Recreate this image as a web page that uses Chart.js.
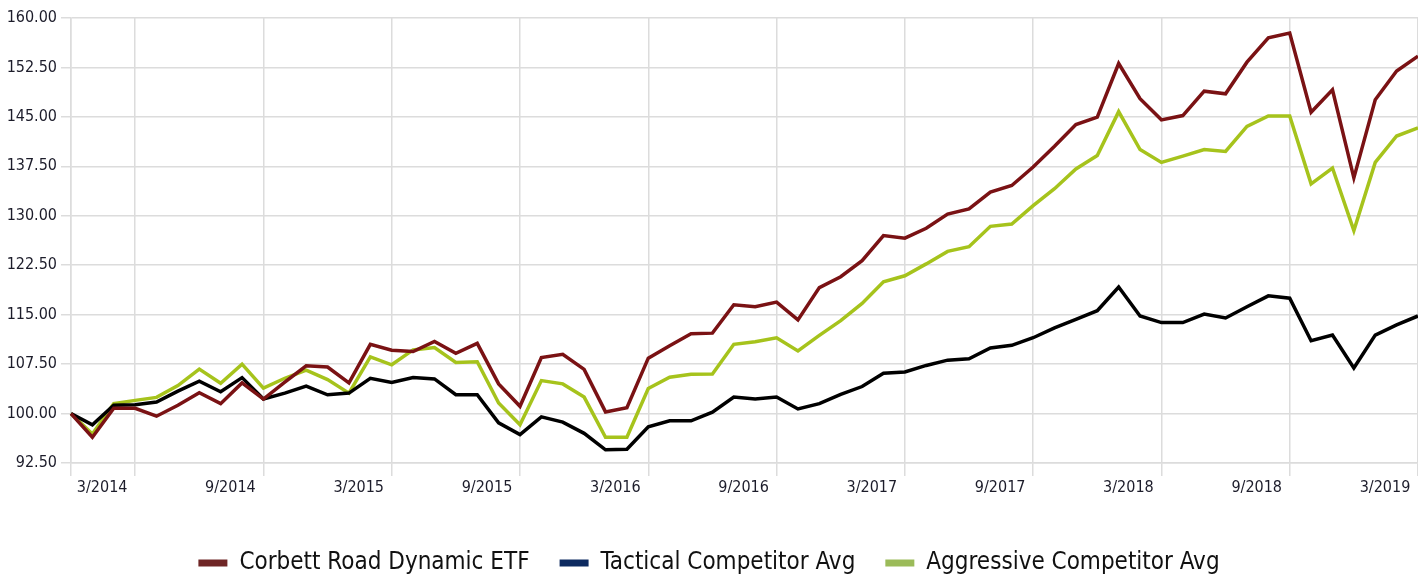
<!DOCTYPE html>
<html><head><meta charset="utf-8">
<script src="https://cdn.jsdelivr.net/npm/chart.js@4.4.1/dist/chart.umd.min.js"></script>
<style>html,body{margin:0;padding:0;background:#fff;overflow:hidden}canvas{display:block}</style>
</head><body>
<canvas id="c" width="1418" height="580"></canvas>
<script>
const months = ["12/2013",
  "1/2014","2/2014","3/2014","4/2014","5/2014","6/2014","7/2014","8/2014","9/2014","10/2014","11/2014","12/2014",
  "1/2015","2/2015","3/2015","4/2015","5/2015","6/2015","7/2015","8/2015","9/2015","10/2015","11/2015","12/2015",
  "1/2016","2/2016","3/2016","4/2016","5/2016","6/2016","7/2016","8/2016","9/2016","10/2016","11/2016","12/2016",
  "1/2017","2/2017","3/2017","4/2017","5/2017","6/2017","7/2017","8/2017","9/2017","10/2017","11/2017","12/2017",
  "1/2018","2/2018","3/2018","4/2018","5/2018","6/2018","7/2018","8/2018","9/2018","10/2018","11/2018","12/2018",
  "1/2019","2/2019","3/2019"];
const tickLabels = ["3/2014","9/2014","3/2015","9/2015","3/2016","9/2016","3/2017","9/2017","3/2018","9/2018","3/2019"];
const seriesNames = ["Corbett Road Dynamic ETF","Tactical Competitor Avg","Aggressive Competitor Avg"];
const corbett = [100, 96.4, 100.8, 100.8, 99.6, 101.25, 103.15, 101.5, 104.65, 102.2, 104.75, 107.25, 107.05, 104.65, 110.5, 109.6, 109.4, 110.95, 109.15, 110.65,
  104.5, 101.1, 108.5, 109.0, 106.7, 100.25, 100.9, 108.4, 110.3, 112.1, 112.2, 116.5, 116.2, 116.9, 114.2, 119.1, 120.75, 123.2, 127.0, 126.6, 128.1, 130.25,
  131.05, 133.6, 134.6, 137.4, 140.55, 143.85, 144.95, 153.1, 147.75, 144.55, 145.2, 148.9, 148.5, 153.3, 157.0, 157.7, 145.7, 149.1, 135.75, 147.6, 151.95, 154.2];
const tactical = [100, 98.3, 101.25, 101.35, 101.75, 103.4, 104.9, 103.3, 105.45, 102.2, 103.1, 104.15, 102.85, 103.1, 105.35, 104.7, 105.45, 105.25, 102.85, 102.85,
  98.6, 96.8, 99.5, 98.7, 97.0, 94.5, 94.6, 98.0, 98.9, 98.9, 100.2, 102.5, 102.2, 102.5, 100.7, 101.5, 102.9, 104.1, 106.1, 106.3, 107.3, 108.1,
  108.3, 109.95, 110.35, 111.5, 113.0, 114.3, 115.6, 119.2, 114.8, 113.8, 113.8, 115.1, 114.5, 116.2, 117.85, 117.5, 111.05, 111.9, 106.9, 111.9, 113.45, 114.8];
const aggressive = [100, 96.9, 101.5, 102.0, 102.45, 104.25, 106.75, 104.6, 107.5, 103.85, 105.35, 106.6, 105.15, 103.1, 108.6, 107.4, 109.65, 110.0, 107.75, 107.85,
  101.6, 98.3, 105.0, 104.5, 102.5, 96.4, 96.4, 103.8, 105.5, 105.95, 106.0, 110.5, 110.9, 111.5, 109.5, 111.85, 114.1, 116.7, 120.0, 120.9, 122.7, 124.6,
  125.3, 128.4, 128.75, 131.55, 134.1, 137.1, 139.15, 145.8, 140.05, 138.1, 139.05, 140.05, 139.75, 143.55, 145.15, 145.15, 134.85, 137.25, 127.75, 138.1, 142.1, 143.35];

const lineColors = ["#7a1214", "#000000", "#a6c31c"];
const legendColors = ["#6f2626", "#0d2a60", "#9bbb59"];
const gridColor = "#dcdcdc";
const axisFont = {family: "'DejaVu Sans Condensed', 'DejaVu Sans', sans-serif", size: 16};
const legendFont = {family: "'Liberation Sans Narrow', 'DejaVu Sans Condensed', 'Liberation Sans', sans-serif", size: 24};
const LEGEND_PAD = 30;

const legendShift = {
  id: 'legendShift',
  afterLayout(chart) {
    const lg = chart.legend;
    if (!lg) return;
    const center = lg.top + LEGEND_PAD + legendFont.size / 2;
    const shift = 563 - center;
    lg.top += shift; lg.bottom += shift;
  }
};

new Chart(document.getElementById('c'), {
  type: 'line',
  data: {
    labels: months,
    datasets: [corbett, tactical, aggressive].map((d, i) => ({
      label: seriesNames[i],
      data: d,
      borderColor: lineColors[i],
      backgroundColor: legendColors[i],
      borderWidth: 3.5,
      pointRadius: 0,
      tension: 0,
      fill: false
    }))
  },
  options: {
    responsive: false,
    animation: false,
    layout: {padding: {top: 18, right: 0, left: 0, bottom: 0}},
    plugins: {
      tooltip: {enabled: false},
      legend: {
        position: 'bottom',
        labels: {
          boxWidth: 29,
          boxHeight: 7,
          padding: LEGEND_PAD,
          color: '#111',
          font: legendFont,
          generateLabels(chart) {
            const items = Chart.defaults.plugins.legend.labels.generateLabels(chart);
            items.forEach((it, i) => { it.fillStyle = legendColors[i]; it.strokeStyle = legendColors[i]; it.lineWidth = 0; });
            return items;
          }
        }
      }
    },
    scales: {
      x: {
        type: 'category',
        offset: false,
        grid: {
          color: c => (c.index === 0 || tickLabels.includes(months[c.index])) ? gridColor : 'rgba(0,0,0,0)',
          lineWidth: 1.5,
          tickLength: 13,
          drawOnChartArea: true
        },
        border: {color: gridColor, width: 1.5},
        ticks: {
          autoSkip: false,
          maxRotation: 0,
          minRotation: 0,
          padding: 2,
          labelOffset: -33,
          color: '#1c1c2a',
          font: axisFont,
          callback: (v, i) => tickLabels.includes(months[i]) ? months[i] : ''
        },
        afterFit(s) { s.height = 53; s.paddingLeft = 0; s.paddingRight = 0; }
      },
      y: {
        min: 92.5,
        max: 160,
        grid: {color: gridColor, lineWidth: 1.5, tickLength: 10},
        border: {color: gridColor, width: 1.5},
        ticks: {
          stepSize: 7.5,
          padding: 4,
          color: '#1c1c2a',
          font: axisFont,
          callback: v => v.toFixed(2)
        },
        afterFit(s) { s.width = 71; s.paddingTop = 0; s.paddingBottom = 0; }
      }
    }
  },
  plugins: [legendShift]
});
</script>
</body></html>
